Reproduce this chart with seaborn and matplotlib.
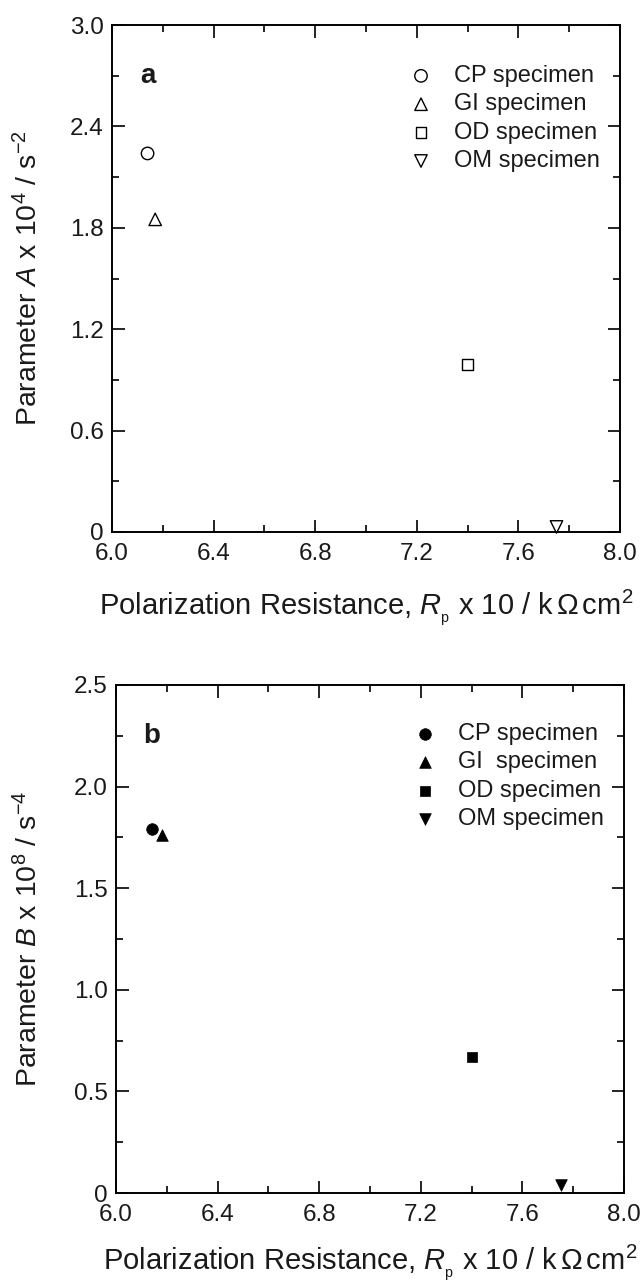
import matplotlib
matplotlib.use("Agg")
import matplotlib.pyplot as plt
import seaborn as sns
from matplotlib.ticker import MultipleLocator, FuncFormatter

sns.set_theme(style="ticks")
plt.rcParams['font.family'] = ['Liberation Sans', 'DejaVu Sans']
plt.rcParams['mathtext.fontset'] = 'custom'
plt.rcParams['mathtext.rm'] = 'Liberation Sans'
plt.rcParams['mathtext.it'] = 'Liberation Sans:italic'
plt.rcParams['mathtext.bf'] = 'Liberation Sans:bold'

specimens_a = ["CP specimen", "GI specimen", "OD specimen", "OM specimen"]
specimens_b = ["CP specimen", "GI  specimen", "OD specimen", "OM specimen"]
rp_a = [6.14, 6.17, 7.40, 7.75]
rp_b = [6.14, 6.18, 7.40, 7.75]
param_a = [2.24, 1.85, 0.99, 0.03]
param_b = [1.79, 1.76, 0.67, 0.04]
markers = ["o", "^", "s", "v"]
sizes_open = [80, 80, 60, 80]
sizes_filled = [70, 70, 55, 70]

TXT = '#1a1a1a'
fig = plt.figure(figsize=(6.41, 12.86), dpi=100)
ax1 = fig.add_axes([112 / 641, 1 - 532 / 1286, 508 / 641, 507 / 1286])
ax2 = fig.add_axes([116 / 641, 1 - 1193 / 1286, 508 / 641, 508 / 1286])

def style_axis(ax, ymax, ymaj, ymin):
    ax.set_xlim(6.0, 8.0)
    ax.set_ylim(0, ymax)
    ax.xaxis.set_major_locator(MultipleLocator(0.4))
    ax.xaxis.set_minor_locator(MultipleLocator(0.2))
    ax.yaxis.set_major_locator(MultipleLocator(ymaj))
    ax.yaxis.set_minor_locator(MultipleLocator(ymin))
    ax.xaxis.set_major_formatter(FuncFormatter(lambda v, p: f"{v:.1f}"))
    ax.yaxis.set_major_formatter(FuncFormatter(lambda v, p: "0" if abs(v) < 1e-9 else f"{v:.1f}"))
    ax.tick_params(which='both', direction='in', top=True, right=True, labelsize=17.5,
                   width=1.2, color='black', labelcolor=TXT)
    ax.tick_params(axis='x', which='major', length=9, pad=8)
    ax.tick_params(axis='y', which='major', length=9, pad=6)
    ax.tick_params(which='minor', length=5)
    for s in ax.spines.values():
        s.set_linewidth(1.4)
        s.set_color('black')
        s.set_visible(True)

xlabel = r"Polarization Resistance, $R_{_{\mathrm{p}}}$ x 10 / k$\,\Omega\,$cm$^2$"

def add_legend(ax, ytop):
    ax.legend(loc='upper left', bbox_to_anchor=(0.585, ytop), frameon=False, fontsize=17,
              handletextpad=0.9, labelspacing=0.27, borderaxespad=0, borderpad=0,
              handlelength=1.0, labelcolor=TXT)

for lab, x, y, m, s in zip(specimens_a, rp_a, param_a, markers, sizes_open):
    sns.scatterplot(x=[x], y=[y], marker=m, s=s, facecolors='none', edgecolors='black',
                    linewidths=1.0, ax=ax1, label=lab, clip_on=False, zorder=3)
style_axis(ax1, 3.0, 0.6, 0.3)
ax1.set_xlabel(xlabel, fontsize=21, labelpad=16, color=TXT)
ax1.set_ylabel(r"Parameter $A$ x 10$^4$ / s$^{-2}$", fontsize=20.5, color=TXT)
ax1.yaxis.set_label_coords(-0.136, 0.5)
ax1.text(0.07, 0.90, "a", transform=ax1.transAxes, fontsize=20, fontweight='bold',
         ha='center', va='center', color=TXT)
add_legend(ax1, 0.921)

for lab, x, y, m, s in zip(specimens_b, rp_b, param_b, markers, sizes_filled):
    sns.scatterplot(x=[x], y=[y], marker=m, s=s, color='black', edgecolor='black',
                    linewidth=0.5, ax=ax2, label=lab, clip_on=False, zorder=3)
style_axis(ax2, 2.5, 0.5, 0.25)
ax2.set_xlabel(xlabel, fontsize=21, labelpad=12, color=TXT)
ax2.set_ylabel(r"Parameter $B$ x 10$^8$ / s$^{-4}$", fontsize=20.5, color=TXT)
ax2.yaxis.set_label_coords(-0.144, 0.5)
ax2.text(0.07, 0.90, "b", transform=ax2.transAxes, fontsize=20, fontweight='bold',
         ha='center', va='center', color=TXT)
add_legend(ax2, 0.925)

fig.savefig("out.png", dpi=100)
